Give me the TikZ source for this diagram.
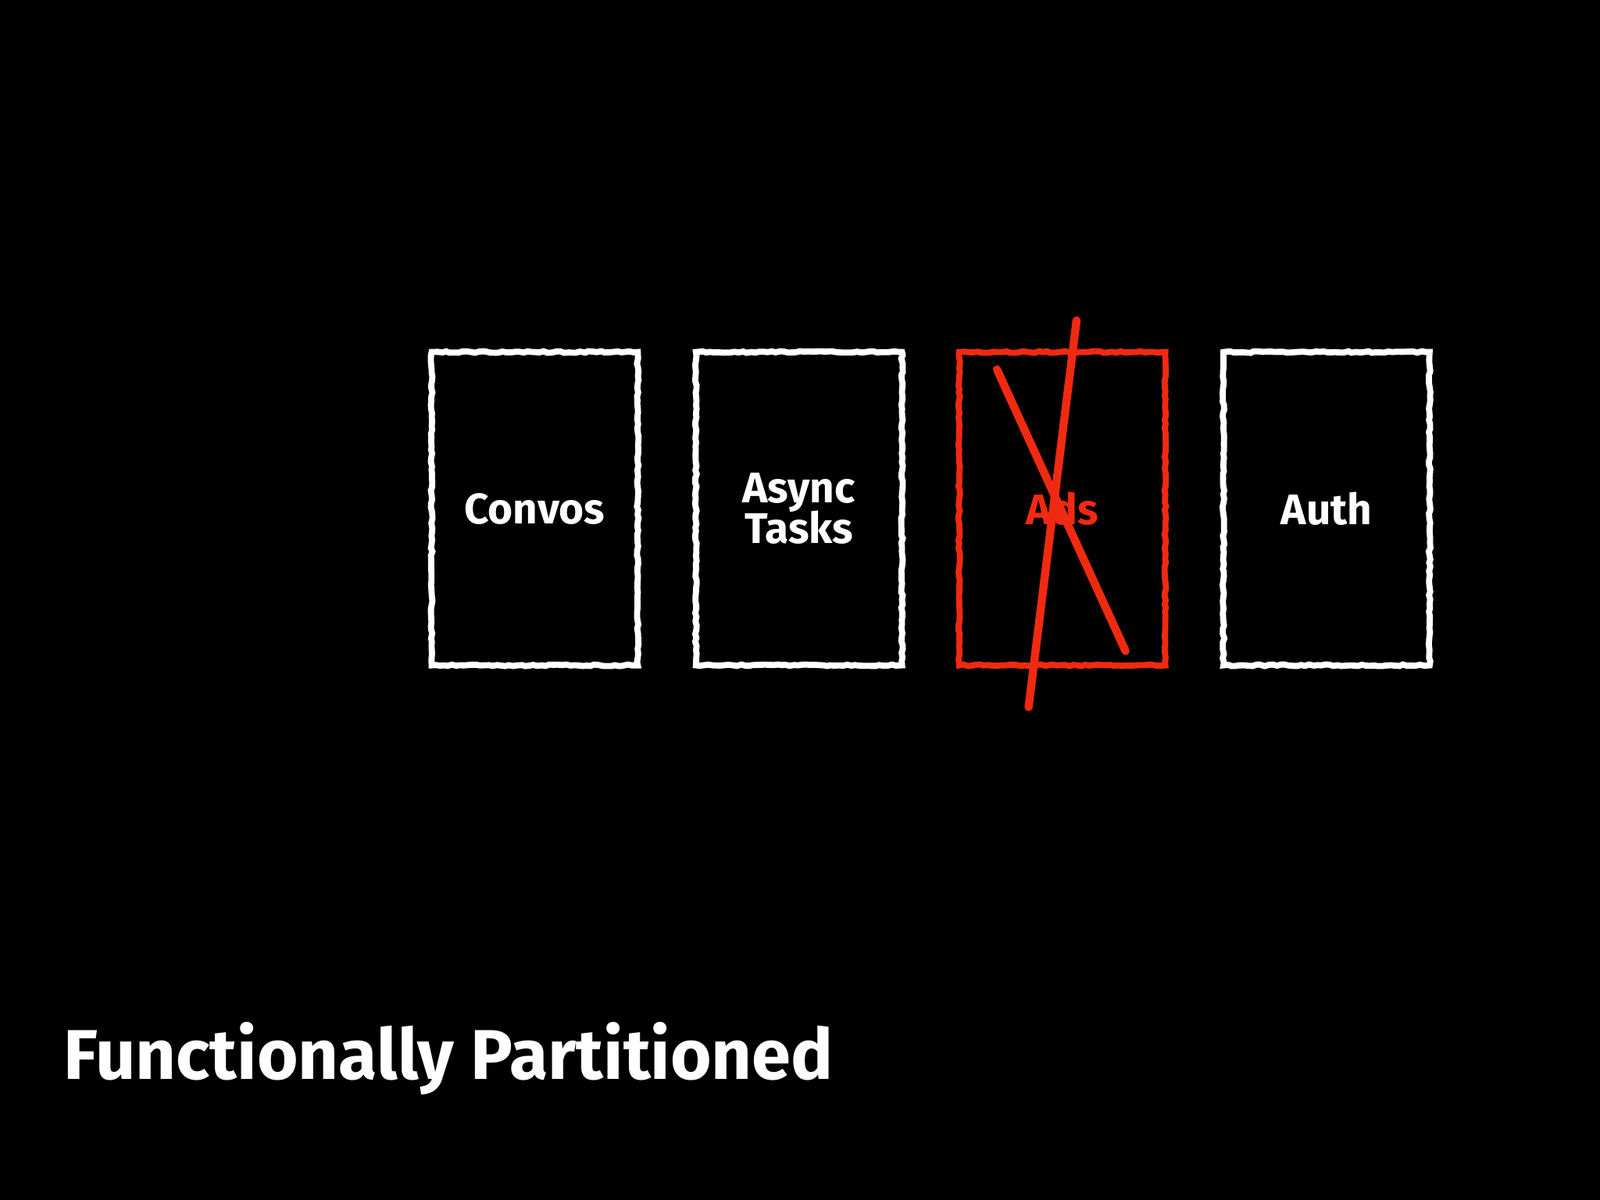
\documentclass[tikz,border=0pt]{standalone}
\usepackage{fontspec}
\setmainfont{Fira Sans}
\usetikzlibrary{decorations.pathmorphing}
\definecolor{chalkred}{HTML}{F02A10}
\begin{document}
\begin{tikzpicture}[x=0.5pt,y=-0.5pt,
  card/.style={draw=white,line width=3pt,minimum width=101pt,minimum height=153.5pt,inner sep=0pt,
    text=white,font=\bfseries\fontsize{21}{23}\selectfont,align=center,
    decorate,decoration={random steps,segment length=2pt,amplitude=0.4pt}},
  strike/.style={draw=chalkred,line width=4pt,line cap=round}]
\fill[black] (0,0) rectangle (1568,1176);
\node[card] (convos) at (524,498.5) {Convos};
\node[card] (async) at (783,498.5) {Async\\[-3pt]Tasks};
\node[card,draw=chalkred,text=chalkred] (ads) at (1041,498.5) {Ads};
\node[card] (auth) at (1300,498.5) {Auth};
\coordinate (a1) at (977,362); \coordinate (a2) at (1103,638);
\coordinate (b1) at (1055,314); \coordinate (b2) at (1008,693);
\draw[strike] (a1) -- (a2);
\draw[strike] (b1) -- (b2);
\node[anchor=base west,text=white,font=\bfseries\fontsize{34.5}{38}\selectfont,inner sep=0pt] (title) at (62,1058) {Functionally Partitioned};
\end{tikzpicture}
\end{document}
